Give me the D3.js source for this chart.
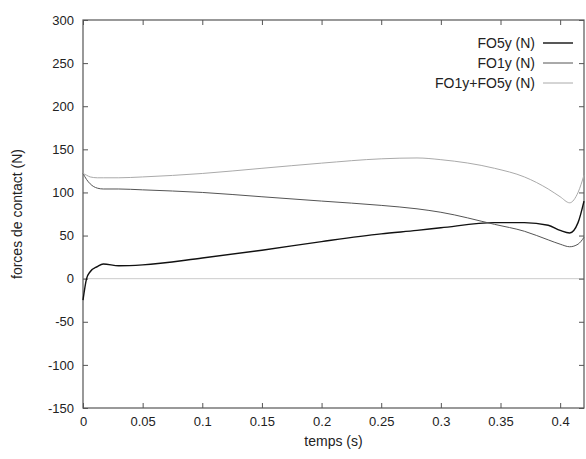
<!DOCTYPE html>
<html>
<head>
<meta charset="utf-8">
<script src="https://cdn.jsdelivr.net/npm/d3@7"></script>
<style>
  body { margin: 0; background: #fff; }
  text { font-family: "Liberation Sans", Arial, sans-serif; fill: #222; }
</style>
</head>
<body>
<div id="chart"></div>
<script>
// temps (s) samples and force readings (N)
const temps = [0, 0.003, 0.006, 0.012, 0.017, 0.03, 0.05, 0.1, 0.15, 0.2, 0.25, 0.28, 0.3, 0.345, 0.37, 0.39, 0.4, 0.408, 0.415, 0.42];
const fo5y = [-25, 0, 8, 14, 17, 15, 16, 24, 33, 43, 52, 56, 59, 65, 65, 62, 56, 53, 65, 90];
const fo1y = [122, 115, 110, 105, 104, 104, 103, 100, 95, 90, 85, 81, 77, 63, 55, 45, 40, 37, 40, 48];
const somme = [122, 120, 118, 117, 117, 117, 118, 122, 128, 134, 139, 140, 138, 128, 118, 104, 95, 88, 100, 120];

const xTicks = [0, 0.05, 0.1, 0.15, 0.2, 0.25, 0.3, 0.35, 0.4];
const yTicks = [-150, -100, -50, 0, 50, 100, 150, 200, 250, 300];

const series = [
  { name: "FO5y (N)", values: fo5y, color: "#111", width: 1.4 },
  { name: "FO1y (N)", values: fo1y, color: "#555", width: 1 },
  { name: "FO1y+FO5y (N)", values: somme, color: "#aaa", width: 1 }
];

const W = 586, H = 459;
const margin = { top: 20, right: 2, bottom: 51, left: 83 };
const width = W - margin.left - margin.right;
const height = H - margin.top - margin.bottom;

const svg = d3.select("#chart").append("svg")
  .attr("width", W).attr("height", H);
const g = svg.append("g")
  .attr("transform", `translate(${margin.left},${margin.top})`);

const x = d3.scaleLinear().domain([0, 0.42]).range([0, width]);
const y = d3.scaleLinear().domain([-150, 300]).range([height, 0]);

// zero axis
g.append("line")
  .attr("x1", 0).attr("x2", width)
  .attr("y1", y(0)).attr("y2", y(0))
  .attr("stroke", "#ccc").attr("stroke-width", 1);

// ticks (inward, mirrored)
const axisStyle = sel => {
  sel.select(".domain").remove();
  sel.selectAll("line").attr("stroke", "#555");
  sel.selectAll("text").attr("font-size", 13).attr("fill", "#222");
};
const plain = d => String(d);
g.append("g").attr("transform", `translate(0,${height})`)
  .call(d3.axisBottom(x).tickValues(xTicks).tickSize(-5).tickPadding(9).tickFormat(plain))
  .call(axisStyle);
g.append("g")
  .call(d3.axisTop(x).tickValues(xTicks).tickSize(-5).tickFormat(""))
  .call(axisStyle);
g.append("g")
  .call(d3.axisLeft(y).tickValues(yTicks).tickSize(-5).tickPadding(9).tickFormat(plain))
  .call(axisStyle);
g.append("g").attr("transform", `translate(${width},0)`)
  .call(d3.axisRight(y).tickValues(yTicks).tickSize(-5).tickFormat(""))
  .call(axisStyle);

// frame
g.append("rect")
  .attr("width", width).attr("height", height)
  .attr("fill", "none").attr("stroke", "#555").attr("stroke-width", 1.2);

// curves
const line = d3.line()
  .x((d, i) => x(temps[i]))
  .y(d => y(d))
  .curve(d3.curveMonotoneX);

series.forEach(s => {
  g.append("path")
    .datum(s.values)
    .attr("fill", "none")
    .attr("stroke", s.color)
    .attr("stroke-width", s.width)
    .attr("d", line);
});

// legend
const legend = g.append("g");
series.forEach((s, i) => {
  const ly = 23 + i * 20;
  legend.append("text")
    .attr("x", 452).attr("y", ly).attr("dy", "0.35em")
    .attr("text-anchor", "end").attr("font-size", 14)
    .text(s.name);
  legend.append("line")
    .attr("x1", 460).attr("x2", 490)
    .attr("y1", ly).attr("y2", ly)
    .attr("stroke", s.color).attr("stroke-width", s.width);
});

// axis titles
svg.append("text")
  .attr("x", margin.left + x(0.21)).attr("y", 446)
  .attr("text-anchor", "middle").attr("font-size", 14)
  .text("temps (s)");
svg.append("text")
  .attr("transform", `translate(22,${margin.top + height / 2}) rotate(-90)`)
  .attr("text-anchor", "middle").attr("font-size", 14)
  .text("forces de contact (N)");
</script>
</body>
</html>
